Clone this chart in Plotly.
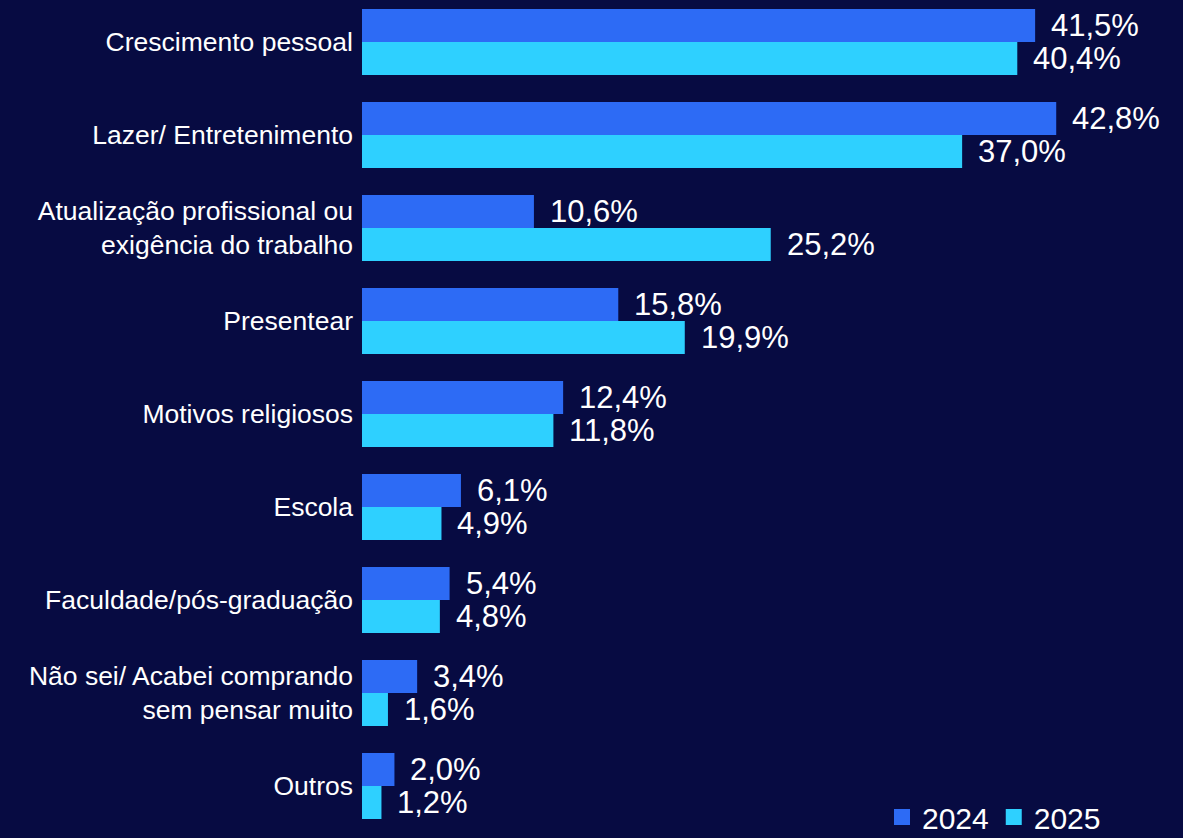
import plotly.graph_objects as go

categories = [
    "Crescimento pessoal",
    "Lazer/ Entretenimento",
    "Atualização profissional ou<br>exigência do trabalho",
    "Presentear",
    "Motivos religiosos",
    "Escola",
    "Faculdade/pós-graduação",
    "Não sei/ Acabei comprando<br>sem pensar muito",
    "Outros",
]
values_2024 = [41.5, 42.8, 10.6, 15.8, 12.4, 6.1, 5.4, 3.4, 2.0]
values_2025 = [40.4, 37.0, 25.2, 19.9, 11.8, 4.9, 4.8, 1.6, 1.2]
series_names = ["2024", "2025"]

BG = "#070B42"
C2024 = "#2D6BF5"
C2025 = "#2ED0FF"
FONT = "Liberation Sans, Arial, sans-serif"

def fmt(v):
    return f"{v:.1f}".replace(".", ",") + "%"

fig = go.Figure()
for name, vals, col in [(series_names[0], values_2024, C2024), (series_names[1], values_2025, C2025)]:
    fig.add_trace(go.Bar(
        name=name, y=categories, x=vals, orientation="h",
        marker=dict(color=col, line=dict(width=0)),
        showlegend=False, hoverinfo="skip",
    ))
    # legend proxies
    fig.add_trace(go.Scatter(
        name=name, x=[None], y=[None], mode="markers",
        marker=dict(symbol="square", size=17, color=col),
        showlegend=True,
    ))

annotations = []
for vals, shift in [(values_2024, 16.5), (values_2025, -16.5)]:
    for c, v in zip(categories, vals):
        annotations.append(dict(
            x=v, y=c, xref="x", yref="y", text=fmt(v), showarrow=False,
            xanchor="left", yanchor="middle", xshift=14, yshift=shift,
            font=dict(family=FONT, size=31, color="white"),
        ))

fig.update_layout(
    width=1183, height=838,
    paper_bgcolor=BG, plot_bgcolor=BG,
    margin=dict(l=362, r=0, t=0, b=0, autoexpand=False),
    barmode="group", bargap=0.29, bargroupgap=0,
    font=dict(family=FONT, color="white"),
    annotations=annotations,
    legend=dict(
        orientation="h", x=(882 - 362) / 821, xanchor="left",
        y=(838 - 817) / 838, yanchor="middle",
        xref="paper", yref="paper",
        font=dict(family=FONT, size=30, color="white"),
        bgcolor="rgba(0,0,0,0)", itemwidth=30, tracegroupgap=0,
    ),
    xaxis=dict(range=[0, 821 / 16.22], visible=False, fixedrange=True),
    yaxis=dict(
        categoryorder="array", categoryarray=categories,
        range=[(838 - 42) / 93, -42 / 93],
        showgrid=False, zeroline=False, showline=False,
        ticks="", ticklabelstandoff=8,
        tickfont=dict(family=FONT, size=26.5, color="white"),
    ),
)

fig.write_html("out.html", config={"displayModeBar": False})
with open("out.html", encoding="utf-8") as f:
    html = f.read()
html = html.replace("<head>", "<head><style>html,body{margin:0;padding:0;overflow:hidden;background:#070B42}</style>", 1)
with open("out.html", "w", encoding="utf-8") as f:
    f.write(html)
